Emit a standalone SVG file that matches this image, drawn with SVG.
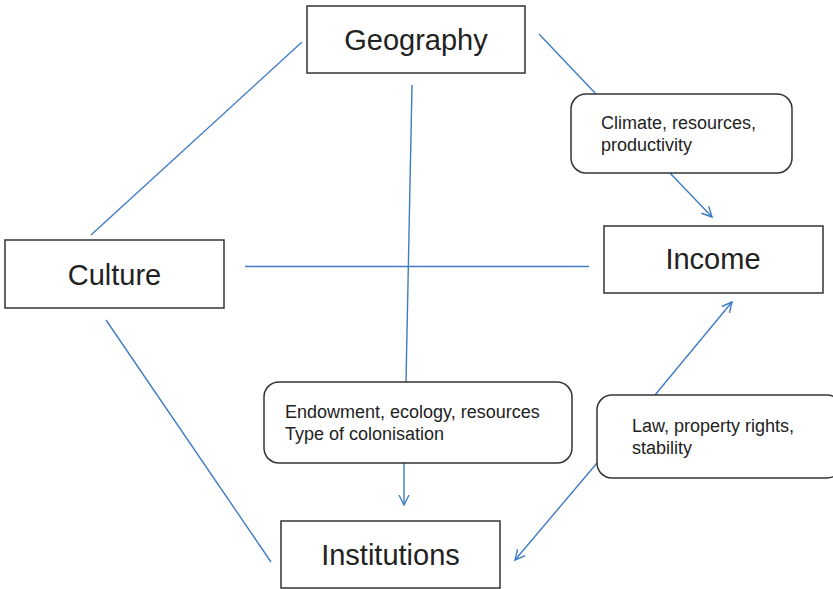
<svg xmlns="http://www.w3.org/2000/svg" width="833" height="589" viewBox="0 0 833 589">
<defs>
<style>
.box{fill:#fff;stroke:#333;stroke-width:1.5}
.big{font-family:"Liberation Sans",Arial,sans-serif;font-size:29px;fill:#222;text-anchor:middle}
.small{font-family:"Liberation Sans",Arial,sans-serif;font-size:18px;fill:#222}
.con{stroke:#3f7cc4;stroke-width:1.4;fill:none}
</style>
<marker id="arr" viewBox="0 0 12 12" refX="11" refY="6" markerWidth="12" markerHeight="12" markerUnits="userSpaceOnUse" orient="auto">
<path d="M1,1 L11,6 L1,11" fill="none" stroke="#3f7cc4" stroke-width="1.4"/>
</marker>
</defs>
<rect width="833" height="589" fill="#fff"/>
<g id="connectors">
<line class="con" x1="302" y1="42" x2="91" y2="235"/>
<line class="con" x1="539" y1="34" x2="596" y2="94"/>
<line class="con" x1="670" y1="173" x2="712" y2="217" marker-end="url(#arr)"/>
<line class="con" x1="245" y1="266.5" x2="589" y2="266.5"/>
<line class="con" x1="412" y1="85" x2="406" y2="382"/>
<line class="con" x1="404" y1="463" x2="404" y2="505" marker-end="url(#arr)"/>
<line class="con" x1="106" y1="320" x2="271" y2="562"/>
<line class="con" x1="597" y1="463" x2="515" y2="560" marker-end="url(#arr)"/>
<line class="con" x1="655" y1="395" x2="732" y2="302" marker-end="url(#arr)"/>
</g>
<g id="geography">
<rect class="box" x="307" y="6" width="218" height="67"/>
<text class="big" x="416" y="50">Geography</text>
</g>
<g id="culture">
<rect class="box" x="5" y="240" width="219" height="68"/>
<text class="big" x="114.5" y="285">Culture</text>
</g>
<g id="income">
<rect class="box" x="604" y="226" width="219" height="67"/>
<text class="big" x="713" y="269">Income</text>
</g>
<g id="institutions">
<rect class="box" x="281" y="521" width="219" height="67"/>
<text class="big" x="390.5" y="565">Institutions</text>
</g>
<g id="climate">
<rect class="box" x="571" y="94" width="221" height="79" rx="15"/>
<text class="small" x="601" y="129">Climate, resources,</text>
<text class="small" x="601" y="151">productivity</text>
</g>
<g id="endowment">
<rect class="box" x="264" y="382" width="308" height="81" rx="15"/>
<text class="small" x="285" y="418">Endowment, ecology, resources</text>
<text class="small" x="285" y="440">Type of colonisation</text>
</g>
<g id="law">
<rect class="box" x="597" y="395" width="245" height="83" rx="15"/>
<text class="small" x="632" y="432">Law, property rights,</text>
<text class="small" x="632" y="454">stability</text>
</g>
</svg>
